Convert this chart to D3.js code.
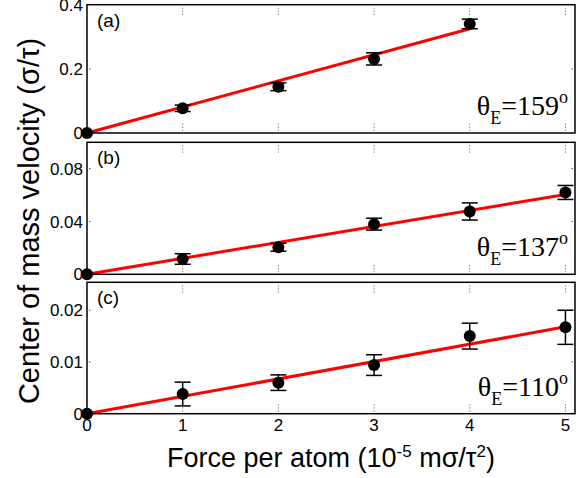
<!DOCTYPE html>
<html>
<head>
<meta charset="utf-8">
<script src="https://cdn.jsdelivr.net/npm/d3@7"></script>
<style>
  body { margin: 0; background: #fff; }
  svg { display: block; }
</style>
</head>
<body>
<div id="chart"></div>
<script>
// force per atom (10^-5 m sigma / tau^2)
const forces = [0, 1, 2, 3, 4, 5];
const xTicks = [0, 1, 2, 3, 4, 5];

// panel (a) theta_E = 159
const velA = [0, 0.077, 0.144, 0.231, 0.340];
const errA = [0, 0.010, 0.012, 0.019, 0.015];
const fitA = [[0, 0], [4, 0.325]];
const ticksA = [0, 0.2, 0.4];

// panel (b) theta_E = 137
const velB = [0, 0.0116, 0.0205, 0.038, 0.0476, 0.062];
const errB = [0, 0.004, 0.003, 0.0045, 0.0065, 0.0053];
const fitB = [[0, 0], [5, 0.0605]];
const ticksB = [0, 0.04, 0.08];

// panel (c) theta_E = 110
const velC = [0, 0.0038, 0.006, 0.0094, 0.015, 0.0167];
const errC = [0, 0.0023, 0.0015, 0.002, 0.0025, 0.0033];
const fitC = [[0, 0], [5, 0.0168]];
const ticksC = [0, 0.01, 0.02];

const panelNames = ["(a)", "(b)", "(c)"];
const angles = ["159", "137", "110"];

const W = 583, H = 478;
const left = 87, right = 575;

const svg = d3.select("#chart").append("svg")
    .attr("width", W)
    .attr("height", H);

const x = d3.scaleLinear().domain([0, 5.1]).range([left, right]);

const panels = [
    {vel: velA, err: errA, fit: fitA, ticks: ticksA, top: 4.7, bottom: 133, max: 0.4},
    {vel: velB, err: errB, fit: fitB, ticks: ticksB, top: 142.3, bottom: 274.3, max: 0.1},
    {vel: velC, err: errC, fit: fitC, ticks: ticksC, top: 282.3, bottom: 413.7, max: 0.0254}
];

const fmt = d => d === 0 ? "0" : String(d);

panels.forEach((p, k) => {
    const y = d3.scaleLinear().domain([0, p.max]).range([p.bottom, p.top]);
    const g = svg.append("g");

    // dotted inner ticks (x, top and bottom)
    xTicks.slice(1).forEach(t => {
        g.append("line")
            .attr("x1", x(t)).attr("x2", x(t))
            .attr("y1", p.bottom - 2).attr("y2", p.bottom - 10)
            .attr("stroke", "#888").attr("stroke-width", 1)
            .attr("stroke-dasharray", "1.5,1.5");
        g.append("line")
            .attr("x1", x(t)).attr("x2", x(t))
            .attr("y1", p.top + 3).attr("y2", p.top + 11)
            .attr("stroke", "#888").attr("stroke-width", 1)
            .attr("stroke-dasharray", "1.5,1.5");
    });
    // y ticks: tiny dots inside left and right edges
    p.ticks.slice(1).forEach(t => {
        if (y(t) - p.top < 3) return;
        g.append("line")
            .attr("x1", left + 2).attr("x2", left + 4)
            .attr("y1", y(t)).attr("y2", y(t))
            .attr("stroke", "#666").attr("stroke-width", 1.2)
            .attr("stroke-dasharray", "1.5,1.5");
        g.append("line")
            .attr("x1", right - 2).attr("x2", right - 4)
            .attr("y1", y(t)).attr("y2", y(t))
            .attr("stroke", "#666").attr("stroke-width", 1.2)
            .attr("stroke-dasharray", "1.5,1.5");
    });

    // y tick labels
    g.selectAll("text.yt")
        .data(p.ticks)
        .enter()
        .append("text")
        .attr("class", "yt")
        .attr("x", left - 4)
        .attr("y", d => y(d))
        .attr("dy", "0.36em")
        .attr("text-anchor", "end")
        .attr("font-family", "Liberation Sans, Arial, sans-serif")
        .attr("font-size", 17)
        .text(fmt);

    // fitted line
    g.append("path")
        .datum(p.fit)
        .attr("d", d3.line().x(d => x(d[0])).y(d => y(d[1])))
        .attr("fill", "none")
        .attr("stroke", "#ff0000")
        .attr("stroke-width", 3);

    const pts = p.vel.map((v, i) => ({f: forces[i], v: v, e: p.err[i]}));

    // error bars
    const eb = g.selectAll("g.eb")
        .data(pts.filter(d => d.e > 0))
        .enter()
        .append("g")
        .attr("stroke", "#000")
        .attr("stroke-width", 1.5);
    eb.append("line")
        .attr("x1", d => x(d.f)).attr("x2", d => x(d.f))
        .attr("y1", d => y(d.v - d.e)).attr("y2", d => y(d.v + d.e));
    eb.append("line")
        .attr("x1", d => x(d.f) - 8).attr("x2", d => x(d.f) + 8)
        .attr("y1", d => y(d.v - d.e)).attr("y2", d => y(d.v - d.e));
    eb.append("line")
        .attr("x1", d => x(d.f) - 8).attr("x2", d => x(d.f) + 8)
        .attr("y1", d => y(d.v + d.e)).attr("y2", d => y(d.v + d.e));

    // frame
    g.append("rect")
        .attr("x", left).attr("y", p.top)
        .attr("width", right - left).attr("height", p.bottom - p.top)
        .attr("fill", "none")
        .attr("stroke", "#000")
        .attr("stroke-width", 1.5);

    // markers
    g.selectAll("circle")
        .data(pts)
        .enter()
        .append("circle")
        .attr("cx", d => x(d.f))
        .attr("cy", d => y(d.v))
        .attr("r", 6)
        .attr("fill", "#000");

    // panel label
    g.append("text")
        .attr("x", left + 10)
        .attr("y", p.top + 22)
        .attr("font-family", "Liberation Sans, Arial, sans-serif")
        .attr("font-size", 19)
        .text(panelNames[k]);

    // theta_E label
    const th = g.append("text")
        .attr("x", right - 7)
        .attr("y", p.bottom - 18)
        .attr("text-anchor", "end")
        .attr("font-family", "Liberation Serif, Times New Roman, serif")
        .attr("font-size", 28);
    th.append("tspan").text("θ");
    th.append("tspan").attr("font-size", 18).attr("dy", 9).text("E");
    th.append("tspan").attr("dy", -9).text("=" + angles[k]);
    th.append("tspan").attr("font-size", 18).attr("dy", -12).text("o");
});

// x tick labels under bottom panel
svg.selectAll("text.xt")
    .data(xTicks)
    .enter()
    .append("text")
    .attr("class", "xt")
    .attr("x", d => x(d))
    .attr("y", 431)
    .attr("text-anchor", "middle")
    .attr("font-family", "Liberation Sans, Arial, sans-serif")
    .attr("font-size", 17)
    .text(d => d);

// x axis title
const xt = svg.append("text")
    .attr("x", (left + right) / 2)
    .attr("y", 467)
    .attr("text-anchor", "middle")
    .attr("font-family", "Liberation Sans, Arial, sans-serif")
    .attr("font-size", 27);
xt.append("tspan").text("Force per atom (10");
xt.append("tspan").attr("font-size", 17).attr("dy", -10).text("-5");
xt.append("tspan").attr("dy", 10).text(" mσ/τ");
xt.append("tspan").attr("font-size", 17).attr("dy", -10).text("2");
xt.append("tspan").attr("dy", 10).text(")");

// y axis title
svg.append("text")
    .attr("transform", "translate(39,221) rotate(-90)")
    .attr("text-anchor", "middle")
    .attr("font-family", "Liberation Sans, Arial, sans-serif")
    .attr("font-size", 29)
    .text("Center of mass velocity (σ/τ)");
</script>
</body>
</html>
